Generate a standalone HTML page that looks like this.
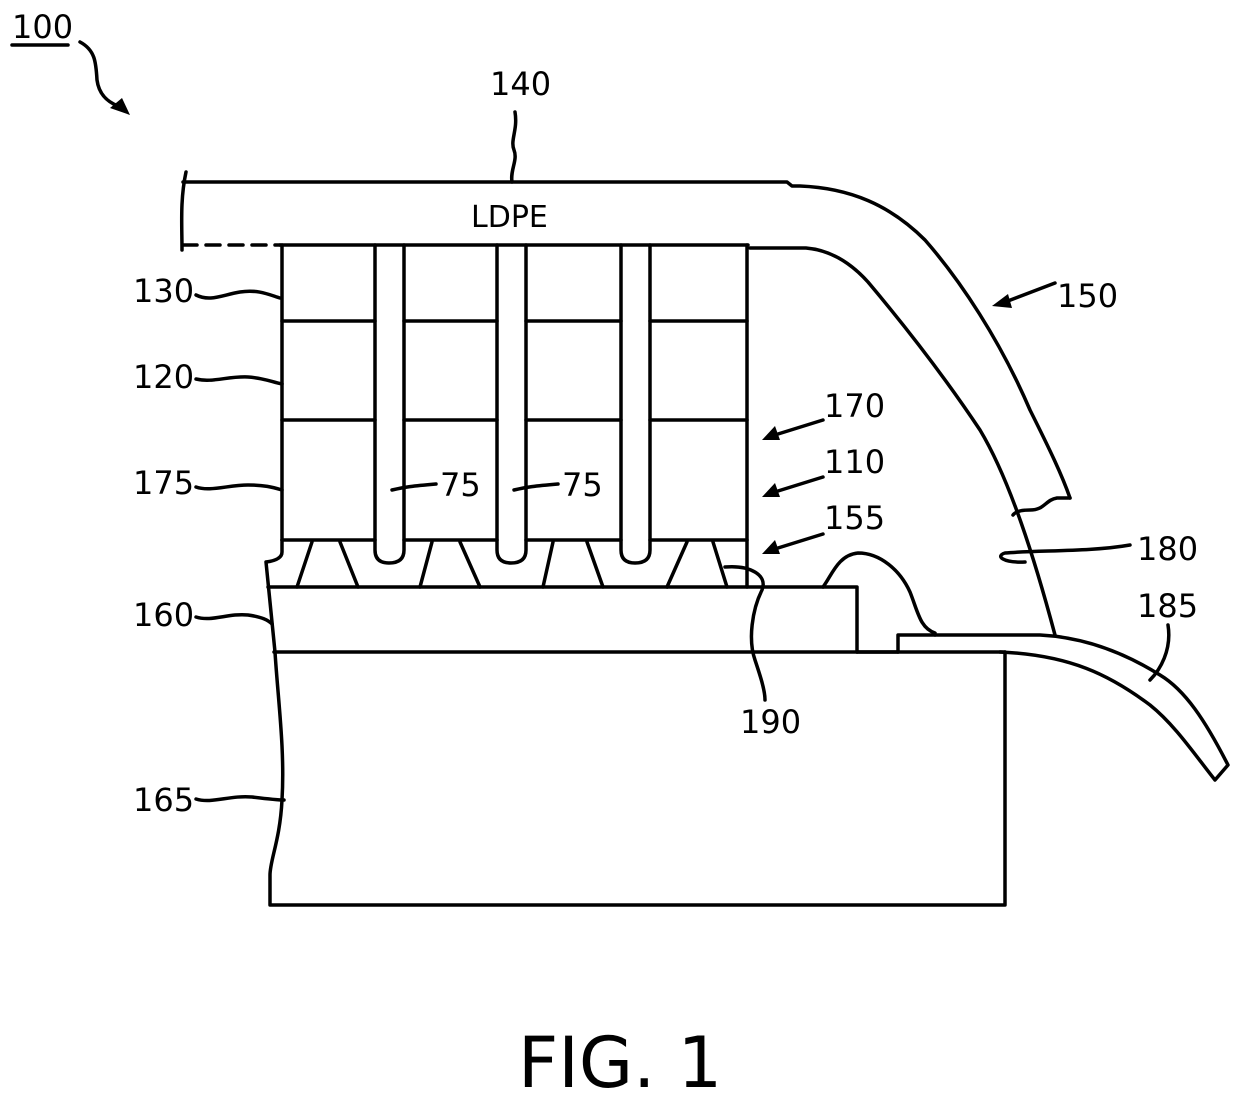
<!DOCTYPE html>
<html><head><meta charset="utf-8"><style>
html,body{margin:0;padding:0;background:#fff;}
svg{display:block;}
text{font-family:"DejaVu Sans","Liberation Sans",sans-serif;fill:#000;}
</style></head><body>
<svg width="1240" height="1101" viewBox="0 0 1240 1101" xmlns="http://www.w3.org/2000/svg">
<g fill="none" stroke="#000" stroke-width="3.5" stroke-linejoin="round" stroke-linecap="round">
<path d="M183,182 L787,182 L792,186 L800,186 C850,188 890,205 925,240 C960,280 1000,340 1030,410 C1050,450 1062,475 1070,498"/>
<path d="M1070,498 L1057,498 C1045,500 1045,510 1030,510 C1020,510 1015,512 1013,515"/>
<path d="M186,172 C180,200 182,225 182,250"/>
<path d="M183,245 L280,245" stroke-dasharray="14,9"/>
<path d="M280,245 L748,245"/>
<path d="M750,248 L806,248 C830,250 850,262 868,282 C900,320 940,370 980,430 C1010,480 1035,560 1055,635"/>
<path d="M282,245 L282,540"/>
<path d="M747,245 L747,587"/>
<path d="M282,321 L375,321 M404,321 L497,321 M526,321 L621,321 M650,321 L747,321"/>
<path d="M282,420 L375,420 M404,420 L497,420 M526,420 L621,420 M650,420 L747,420"/>
<path d="M282,540 L375,540 M404,540 L497,540 M526,540 L621,540 M650,540 L747,540"/>
<path d="M375,245 L375,550 Q375,563 389,563 Q404,563 404,550 L404,245"/>
<path d="M497,245 L497,550 Q497,563 511,563 Q526,563 526,550 L526,245"/>
<path d="M621,245 L621,550 Q621,563 635,563 Q650,563 650,550 L650,245"/>
<path d="M282,540 L282,552 Q282,560 266,562 L275,652 C278,700 285,750 282,800 C280,840 270,860 270,875 L270,905 L1005,905 L1005,652"/>
<path d="M312,542 L297,587 M340,542 L358,587 M432,542 L420,587 M460,542 L480,587 M553,542 L543,587 M587,542 L603,587 M687,542 L667,587 M713,542 L727,587"/>
<path d="M268,587 L857,587 L857,652"/>
<path d="M274,652 L898,652"/>
<path d="M898,652 L898,635 L935,635"/>
<path d="M857,652 L1005,652"/>
<path d="M935,635 L1040,635 C1080,637 1120,650 1160,675 C1185,690 1205,720 1228,765 L1215,780 C1195,755 1175,725 1150,705 C1110,675 1070,655 1000,652"/>
<path d="M823,587 C832,575 838,555 858,553 C880,553 900,570 910,592 C918,612 920,628 935,633"/>
<path d="M80,42 C95,50 96,62 97,80 C99,95 108,102 118,106"/>
<path d="M515,112 C518,130 510,140 514,150 C518,160 510,170 512,182"/>
<path d="M196,295 C210,302 222,295 240,292 C258,289 270,295 280,298"/>
<path d="M196,379 C212,383 228,376 248,377 C264,378 272,382 282,384"/>
<path d="M196,487 C210,492 228,485 248,485 C264,485 272,487 282,490"/>
<path d="M196,617 C212,622 228,613 248,615 C262,617 268,620 272,624"/>
<path d="M196,799 C212,804 230,795 252,797 C268,799 276,800 284,800"/>
<path d="M392,490 C405,487 412,486 436,484"/>
<path d="M514,490 C527,487 534,486 558,484"/>
<path d="M1055,283 L1000,304"/>
<path d="M823,420 L778,434"/>
<path d="M823,477 L778,491"/>
<path d="M823,534 L778,548"/>
<path d="M1130,545 C1090,552 1040,550 1005,553 C995,556 1003,563 1025,562"/>
<path d="M1168,625 C1172,650 1160,670 1150,680"/>
<path d="M725,567 C750,565 768,575 762,590 C752,610 748,640 755,660 C760,675 765,690 765,700"/>
<path d="M12,45 L68,45"/>
</g>
<g fill="#000" stroke="none">
<polygon points="130,115 110,108 122,98"/>
<polygon points="992,306 1008,294 1012,308"/>
<polygon points="762,440 775,426 780,440"/>
<polygon points="762,497 775,483 780,497"/>
<polygon points="762,554 775,540 780,554"/>
</g>
<g font-size="32">
<text x="12" y="38">100</text>
<text x="490" y="95">140</text>
<text x="471" y="227" font-size="30">LDPE</text>
<text x="1057" y="307">150</text>
<text x="824" y="417">170</text>
<text x="824" y="473">110</text>
<text x="824" y="529">155</text>
<text x="133" y="302">130</text>
<text x="133" y="388">120</text>
<text x="133" y="494">175</text>
<text x="133" y="626">160</text>
<text x="133" y="811">165</text>
<text x="440" y="496">75</text>
<text x="562" y="496">75</text>
<text x="740" y="733">190</text>
<text x="1137" y="560">180</text>
<text x="1137" y="617">185</text>
<text x="518" y="1087" font-size="70">FIG. 1</text>
</g>
</svg>
</body></html>
